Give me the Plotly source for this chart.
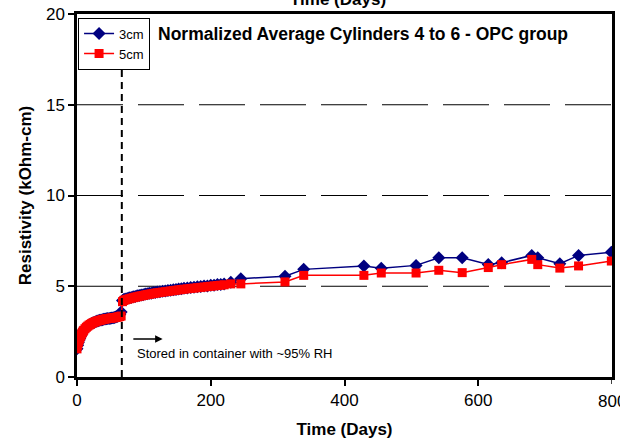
import plotly.graph_objects as go

# ---- data ----
days_early = [0, 1, 2, 3, 4, 5, 6, 7, 8, 9, 10, 12, 14, 16, 18, 20, 22, 24, 26, 28, 30,
              32, 34, 36, 38, 40, 42, 44, 46, 48, 50, 52, 54, 56, 58, 60, 62, 64, 66]
r5_early = [1.55, 1.75, 1.9, 2.02, 2.12, 2.22, 2.3, 2.38, 2.45, 2.52, 2.57, 2.66, 2.74, 2.8,
            2.86, 2.9, 2.95, 2.99, 3.02, 3.05, 3.08, 3.1, 3.12, 3.14, 3.16, 3.18, 3.19, 3.21,
            3.22, 3.23, 3.24, 3.25, 3.26, 3.27, 3.28, 3.3, 3.31, 3.33, 3.36]
r3_early = [1.55, 1.75, 1.9, 2.02, 2.12, 2.22, 2.3, 2.38, 2.45, 2.52, 2.57, 2.66, 2.74, 2.8,
            2.86, 2.9, 2.95, 2.99, 3.02, 3.05, 3.08, 3.1, 3.12, 3.14, 3.16, 3.18, 3.19, 3.21,
            3.22, 3.23, 3.24, 3.25, 3.26, 3.28, 3.3, 3.33, 3.37, 3.44, 3.58]

days_late = [68, 70, 72, 75, 78, 81, 84, 87, 90, 93, 96, 99, 102, 105, 108, 111, 114, 117,
             120, 124, 128, 132, 136, 140, 144, 148, 152, 156, 160, 165, 170, 175, 180, 185,
             190, 195, 200, 205, 210, 215, 220, 230, 245, 311, 339, 429, 455, 507, 541, 576,
             615, 635, 680, 689, 722, 750, 799]
r5_late = [4.15, 4.22, 4.25, 4.28, 4.31, 4.34, 4.37, 4.4, 4.42, 4.45, 4.47, 4.49, 4.52, 4.54,
           4.56, 4.58, 4.6, 4.62, 4.64, 4.66, 4.68, 4.7, 4.72, 4.74, 4.76, 4.78, 4.8, 4.82,
           4.84, 4.86, 4.88, 4.9, 4.92, 4.94, 4.96, 4.98, 5.0, 5.02, 5.04, 5.06, 5.08, 5.13,
           5.13, 5.24, 5.6, 5.6, 5.73, 5.73, 5.88, 5.75, 6.03, 6.19, 6.48, 6.19, 6.0, 6.12, 6.39]
r3_late = [4.22, 4.27, 4.3, 4.32, 4.37, 4.38, 4.42, 4.44, 4.47, 4.49, 4.52, 4.53, 4.57, 4.58,
           4.61, 4.62, 4.65, 4.66, 4.69, 4.7, 4.73, 4.74, 4.77, 4.78, 4.81, 4.82, 4.85, 4.86,
           4.89, 4.9, 4.93, 4.94, 4.97, 4.98, 5.01, 5.02, 5.05, 5.06, 5.09, 5.1, 5.13, 5.22,
           5.42, 5.55, 5.93, 6.12, 5.99, 6.15, 6.57, 6.57, 6.2, 6.3, 6.7, 6.57, 6.24, 6.7, 6.88]

days = days_early + days_late
res_3cm = r3_early + r3_late
res_5cm = r5_early + r5_late

series_names = ["3cm", "5cm"]
title_text = "Normalized Average Cylinders 4 to 6 - OPC group"
x_title = "Time (Days)"
y_title = "Resistivity (kOhm-cm)"
x_ticks = [0, 200, 400, 600, 800]
y_ticks = [0, 5, 10, 15, 20]
grid_levels = [5, 10, 15]
change_day = 67
note_text = "Stored in container with ~95% RH"

FONT = "Arial, 'Liberation Sans', sans-serif"

fig = go.Figure()
fig.add_trace(go.Scatter(
    x=days, y=res_3cm, name=series_names[0], mode="lines+markers",
    line=dict(color="#000080", width=1.5),
    marker=dict(symbol="diamond", size=10, color="#000080"),
))
fig.add_trace(go.Scatter(
    x=days, y=res_5cm, name=series_names[1], mode="lines+markers",
    line=dict(color="#FF0000", width=1.5),
    marker=dict(symbol="square", size=9, color="#FF0000"),
))

# dashed horizontal gridlines (drawn from the left edge)
for g in grid_levels:
    fig.add_shape(type="line", xref="paper", yref="y", x0=0, x1=1, y0=g, y1=g, layer="below",
                  line=dict(color="black", width=1, dash="46px,15px"))

# vertical dashed line at change of storage
fig.add_shape(type="line", xref="x", yref="y", x0=change_day, x1=change_day, y0=0, y1=17.1,
              line=dict(color="black", width=2, dash="7px,5px"))

# note and arrow
fig.add_annotation(x=86, y=1.3, xref="x", yref="y", text=note_text, showarrow=False,
                   xanchor="left", yanchor="middle", font=dict(family=FONT, size=13, color="black"))
fig.add_annotation(x=128, y=2.1, ax=82, ay=2.1, xref="x", yref="y", axref="x", ayref="y",
                   text="", showarrow=True, arrowhead=2, arrowsize=1, arrowwidth=1.5,
                   arrowcolor="black")

# chart title inside plot
fig.add_annotation(x=0.535, y=0.945, xref="paper", yref="paper", text="<b>" + title_text + "</b>",
                   showarrow=False, xanchor="center", yanchor="middle",
                   font=dict(family=FONT, size=17.5, color="black"))

# cut-off top axis title
fig.add_annotation(x=0.487, y=1, xref="paper", yref="paper", text="<b>" + x_title + "</b>",
                   showarrow=False, xanchor="center", yanchor="middle", yshift=15,
                   font=dict(family=FONT, size=17, color="black"))

# last x tick label, cut off at the right edge as in the reference
fig.add_annotation(x=x_ticks[-1], y=0, xref="x", yref="paper", text=str(x_ticks[-1]),
                   showarrow=False, xanchor="center", yanchor="top", yshift=-13,
                   font=dict(family=FONT, size=17, color="black"))

# x tick mark at 800
fig.add_shape(type="line", xref="x", yref="paper", ysizemode="pixel", yanchor=0,
              x0=x_ticks[-1], x1=x_ticks[-1], y0=0, y1=-7,
              line=dict(color="black", width=1.5))

fig.update_layout(
    width=620, height=443,
    margin=dict(l=77, r=5, t=13, b=66),
    paper_bgcolor="white", plot_bgcolor="white",
    font=dict(family=FONT, color="black"),
    showlegend=True,
    legend=dict(x=0.002, y=0.99, xanchor="left", yanchor="top",
                bgcolor="white", bordercolor="black", borderwidth=1,
                font=dict(family=FONT, size=13, color="black"),
                itemwidth=30, tracegroupgap=0),
    xaxis=dict(range=[0, 800], tickvals=x_ticks[:-1], ticks="outside", ticklen=6, tickwidth=1.5,
               tickcolor="black", showline=True, linecolor="black", linewidth=2.5, mirror=True,
               showgrid=False, zeroline=False,
               tickfont=dict(family=FONT, size=17, color="black"),
               title=dict(text="<b>" + x_title + "</b>", font=dict(family=FONT, size=17, color="black"),
                          standoff=14)),
    yaxis=dict(range=[0, 20], tickvals=y_ticks, ticks="outside", ticklen=6, tickwidth=1.5,
               tickcolor="black", showline=True, linecolor="black", linewidth=2.5, mirror=True,
               showgrid=False, zeroline=False,
               tickfont=dict(family=FONT, size=17, color="black"),
               title=dict(text="<b>" + y_title + "</b>", font=dict(family=FONT, size=17, color="black"),
                          standoff=10)),
)

fig.write_html("out.html")
